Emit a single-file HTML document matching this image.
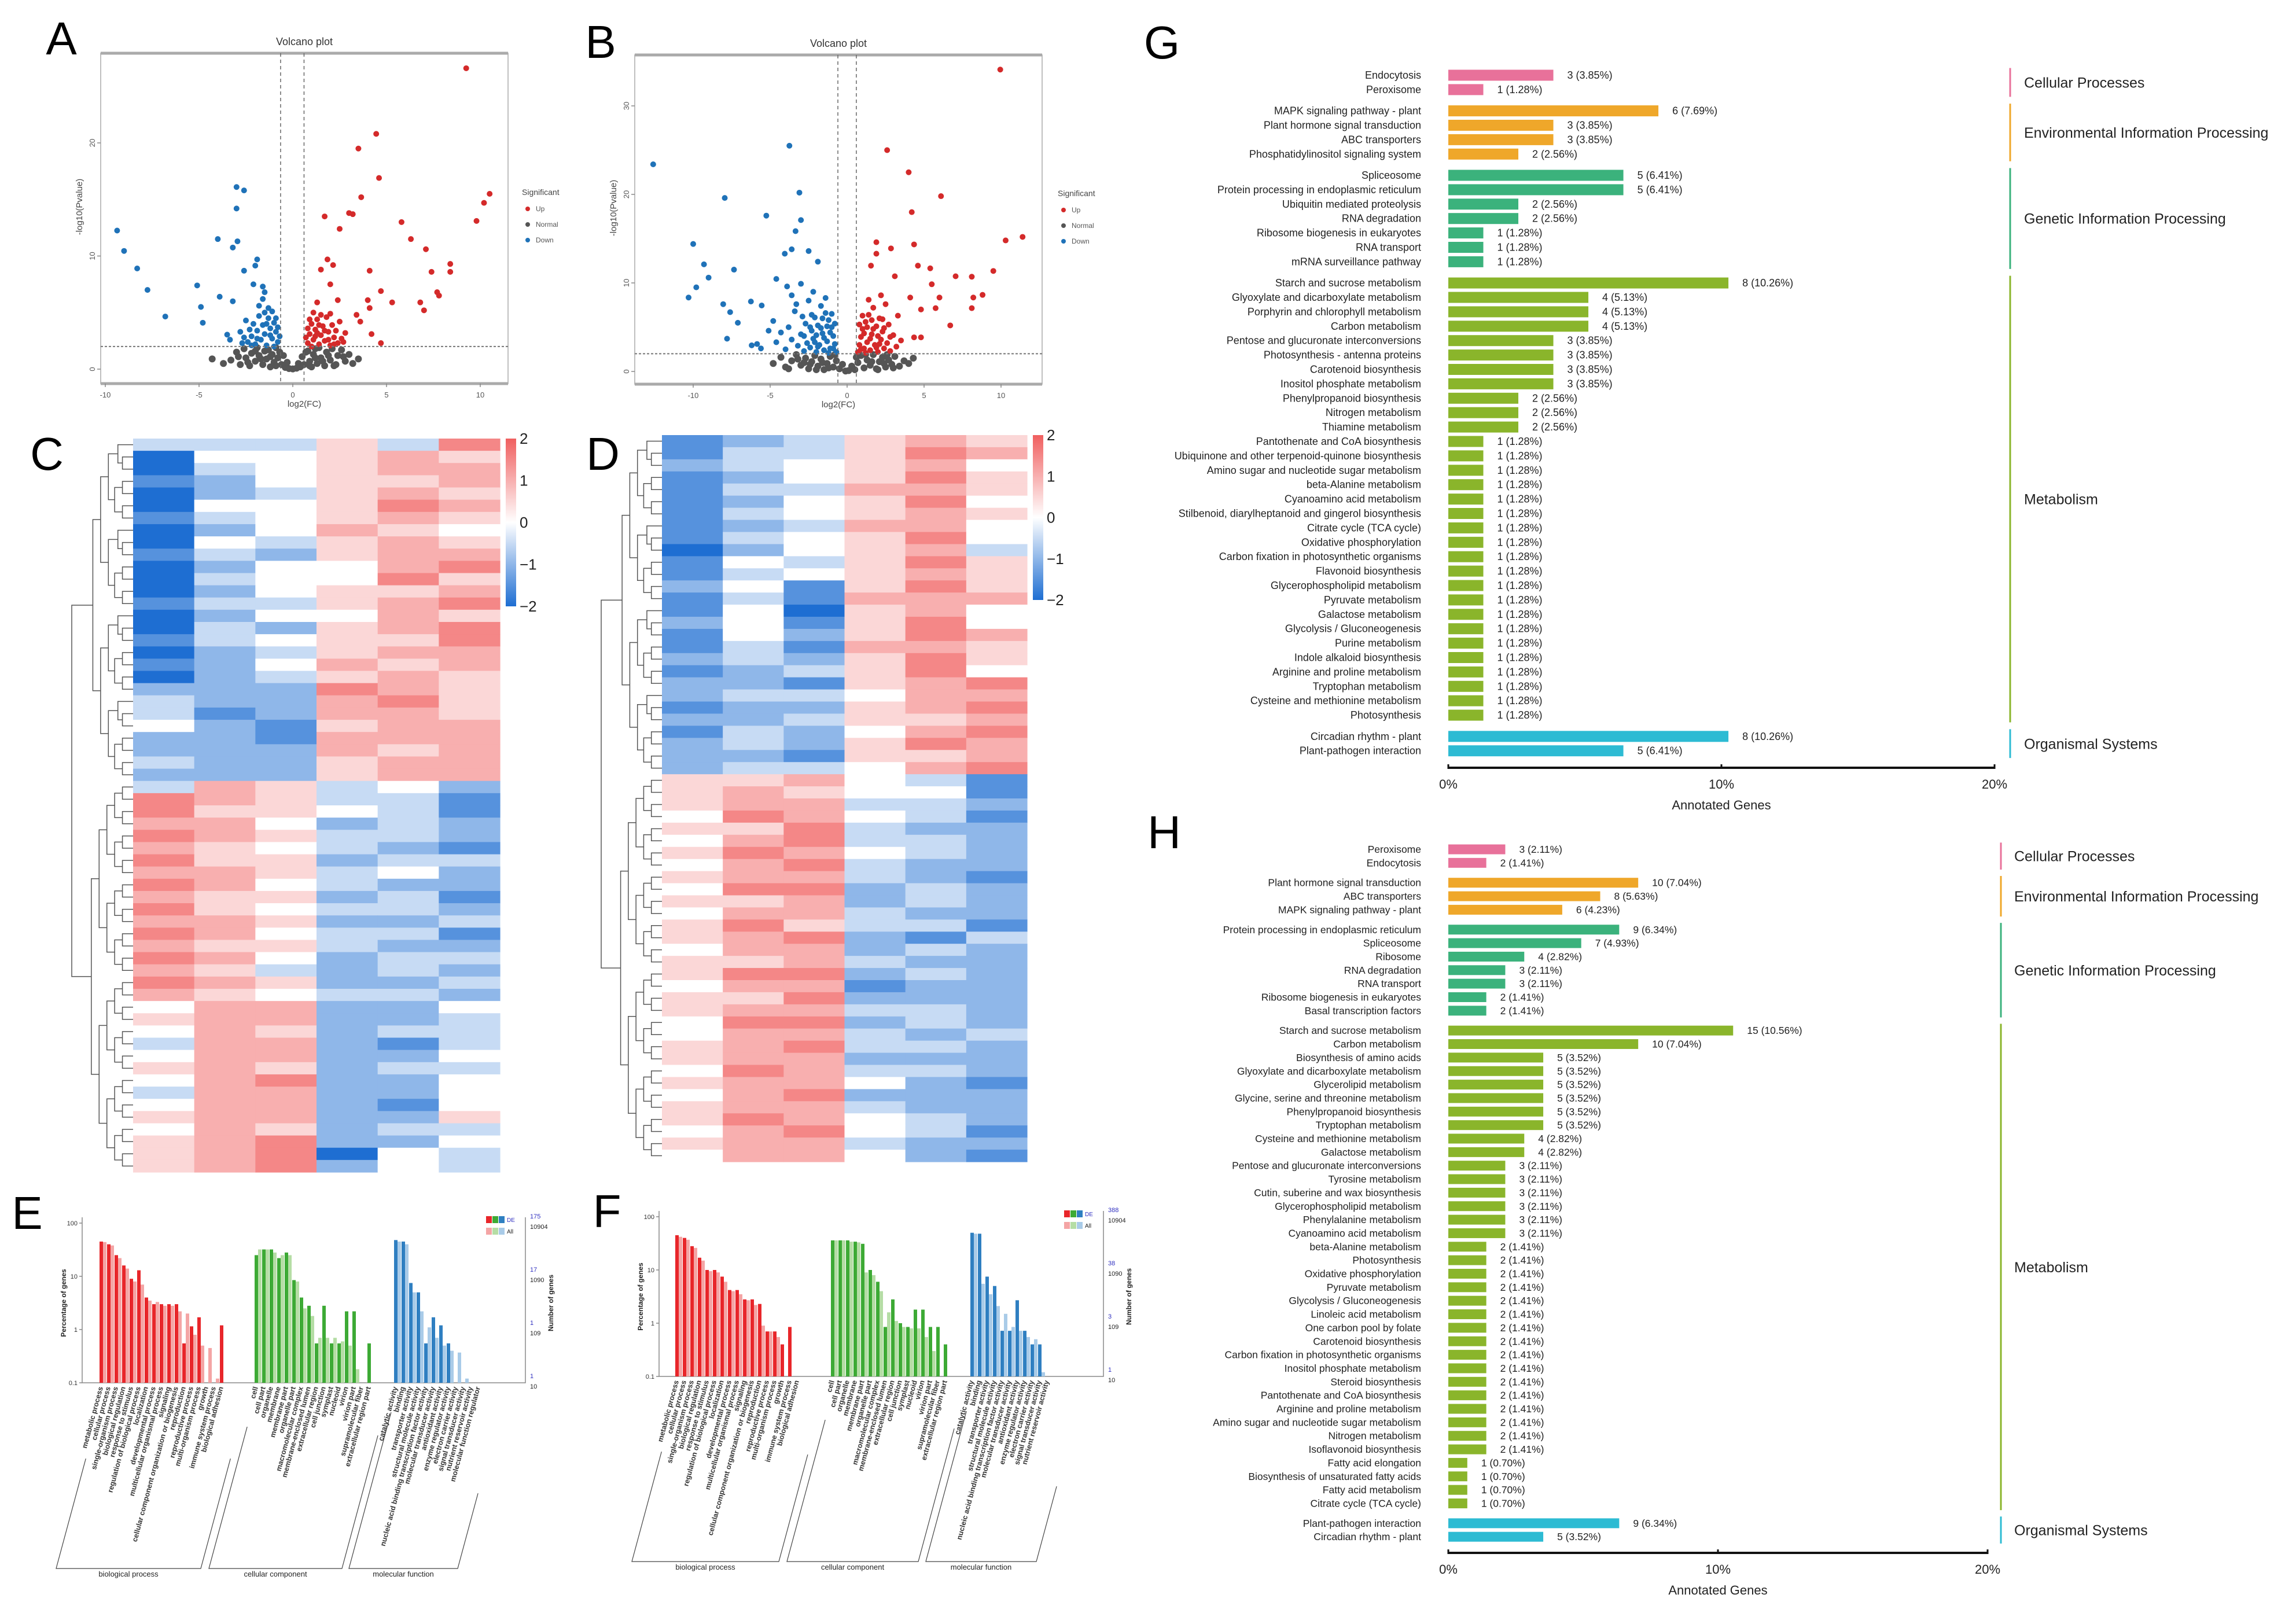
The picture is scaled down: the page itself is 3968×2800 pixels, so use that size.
<!DOCTYPE html>
<html><head><meta charset="utf-8"><title>Transcriptome figure</title>
<style>
html,body{margin:0;padding:0;background:#fff;}
svg{display:block;font-family:"Liberation Sans",sans-serif;}
</style></head>
<body>
<svg id="fig" xmlns="http://www.w3.org/2000/svg" width="3968" height="2800" viewBox="0 0 3968 2800">
<rect x="0" y="0" width="3968" height="2800" fill="#fff"/>
<defs>
<linearGradient id="cbar" x1="0" y1="0" x2="0" y2="1">
<stop offset="0" stop-color="rgb(240,95,95)"/><stop offset="0.5" stop-color="#fff"/><stop offset="1" stop-color="rgb(30,110,210)"/>
</linearGradient>
</defs>
<g font-size="80" fill="#000">
<text x="106" y="94" text-anchor="middle">A</text>
<text x="1038" y="100" text-anchor="middle">B</text>
<text x="81" y="812" text-anchor="middle">C</text>
<text x="1042" y="812" text-anchor="middle">D</text>
<text x="47" y="2124" text-anchor="middle">E</text>
<text x="1049" y="2121" text-anchor="middle">F</text>
<text x="2008" y="101" text-anchor="middle">G</text>
<text x="2012" y="1466" text-anchor="middle">H</text>
</g>
</svg>
<script>
// ---------- Volcano A data ----------
const volAUp = [[9.25,26.6],[4.45,20.8],[3.5,19.5],[4.6,16.9],[3.65,15.2],[10.5,15.5],[10.2,14.7],[1.7,13.5],[3.0,13.8],[3.2,13.7],[5.8,13.0],[9.8,13.1],[2.5,12.4],[6.3,11.5],[7.1,10.6],[8.4,9.3],[1.85,9.7],[2.15,9.2],[1.5,8.8],[4.1,8.7],[7.4,8.6],[8.4,8.6],[2.0,7.5],[7.7,6.8],[7.8,6.5],[4.7,6.9],[5.3,5.9],[6.8,5.9],[4.0,6.1],[7.0,5.2],[2.4,6.1],[1.3,5.9],[4.1,5.4],[3.4,4.8],[3.6,4.2],[4.2,3.1],[4.7,2.3],
[0.8,2.3],[0.9,3.1],[1.0,4.0],[1.1,2.6],[1.2,3.5],[1.3,4.4],[1.4,2.2],[1.5,3.0],[1.6,3.8],[1.7,2.5],[1.8,4.6],[1.9,3.3],[2.0,2.1],[2.1,3.9],[2.2,2.8],[2.3,3.4],[2.4,2.3],[2.5,4.2],[2.6,2.7],[2.8,3.2],[1.0,2.0],[1.2,2.9],[0.9,4.4],[1.5,4.8],[2.0,4.9],[1.7,3.4],[1.3,3.2],[1.1,5.0],[0.8,3.6],[2.2,2.2],[0.7,2.8],[1.4,3.9],[1.9,2.6],[2.7,2.4]];
const volANormal = [[-3.3,0.8],[-3,1.5],[-2.8,0.4],[-2.6,1.8],[-2.5,1.0],[-2.3,0.3],[-2.2,1.4],[-2,0.7],[-1.9,1.9],[-1.8,1.2],[-1.6,0.4],[-1.5,1.6],[-1.4,0.9],[-1.2,0.2],[-1.1,1.3],[-1,0.6],[-0.9,1.9],[-0.8,1.0],[-0.6,0.4],[-0.5,1.2],[-0.4,0.15],[-0.3,0.6],[-0.2,0.05],[0,0.02],[0.2,0.08],[0.3,0.5],[0.4,0.2],[0.5,1.1],[0.6,0.4],[0.8,1.6],[0.9,0.7],[1.0,0.2],[1.1,1.3],[1.3,0.5],[1.4,1.9],[1.5,1.0],[1.7,0.3],[1.8,1.5],[2.0,0.8],[2.1,1.8],[2.3,0.4],[2.4,1.2],[2.6,1.7],[2.8,0.7],[3.0,1.3],[3.2,0.5],[-4.3,0.9],[-3.7,0.5],[3.5,0.9],[-1.3,1.7],[1.2,1.8],[-0.7,1.5],[0.7,1.5],[-2.9,1.1],[2.7,1.1],[-1.7,0.9],[-2.4,0.6],[1.6,0.7],[2.2,0.3],[-0.9,0.3],[0.9,0.3],[-1.2,1.1],[1.2,1.0],[-2.0,1.6],[1.9,1.2]];
const volADown = [[-9.37,12.25],[-9.0,10.45],[-8.3,8.9],[-7.75,7.0],[-6.8,4.65],[-3.0,16.1],[-2.6,15.8],[-3.0,14.2],[-4.0,11.5],[-2.95,11.3],[-3.2,10.75],[-5.1,7.4],[-3.9,6.4],[-3.2,6.0],[-4.9,5.5],[-4.8,4.1],[-1.9,9.7],[-2.0,9.15],[-2.6,8.7],[-2.1,7.5],[-1.6,7.3],[-1.5,6.8],[-3.5,3.05],[-3.35,2.6],
[-0.8,2.4],[-0.9,3.3],[-1.0,4.1],[-1.1,2.7],[-1.2,3.6],[-1.3,4.5],[-1.4,2.1],[-1.5,3.1],[-1.6,3.9],[-1.7,2.6],[-1.8,4.7],[-1.9,3.4],[-2.0,2.2],[-2.1,4.0],[-2.2,2.9],[-2.3,3.5],[-2.4,2.4],[-2.5,4.3],[-2.6,2.8],[-2.8,3.3],[-1.0,2.0],[-1.2,3.0],[-0.9,4.5],[-1.5,5.0],[-1.8,5.6],[-1.6,6.2],[-1.3,5.4],[-1.1,5.1],[-0.8,3.7],[-2.2,2.1],[-0.7,2.9],[-1.4,4.0],[-1.9,2.7],[-2.7,2.3]];
const volATicksX = [-10,-5,0,5,10];
const volATicksY = [0,10,20];
// ---------- Volcano B data ----------
const volBUp = [[9.95,34.1],[2.6,25],[4.0,22.5],[6.1,19.8],[4.2,18.0],[11.4,15.2],[10.3,14.8],[1.9,14.6],[2.85,13.9],[4.35,14.35],[1.9,13.3],[1.55,11.95],[4.6,11.95],[5.4,11.65],[3.1,10.75],[9.5,11.35],[7.05,10.75],[8.1,10.7],[5.5,9.85],[8.8,8.65],[8.2,8.35],[6.0,8.35],[4.1,8.35],[8.1,7.15],[4.8,7.0],[5.75,7.15],[6.7,5.2],[4.35,3.85],[4.8,3.85],
[0.7,2.2],[0.8,3.0],[0.9,3.9],[1.0,4.8],[1.1,2.6],[1.2,5.6],[1.3,3.3],[1.4,6.4],[1.5,2.4],[1.6,4.2],[1.7,7.2],[1.8,3.0],[1.9,5.1],[2.0,2.2],[2.1,6.0],[2.2,3.6],[2.3,4.5],[2.4,2.6],[2.5,7.6],[2.6,3.2],[2.7,5.3],[2.8,2.3],[3.0,4.1],[3.2,2.8],[3.5,3.5],[0.9,2.5],[1.1,4.3],[1.3,5.0],[1.5,3.7],[1.7,4.8],[1.9,2.7],[2.1,3.1],[2.3,5.9],[0.8,5.3],[1.0,6.3],[1.2,2.1],[1.6,5.8],[2.0,4.0],[2.4,4.9],[2.8,3.9],[3.3,6.3],[1.4,8.1],[2.2,8.6]];
const volBNormal = [[-4.8,0.9],[-4.3,1.6],[-4.0,0.5],[-3.6,1.2],[-3.3,1.9],[-3.0,0.7],[-2.7,1.5],[-2.5,0.3],[-2.3,1.1],[-2.1,1.8],[-1.9,0.6],[-1.7,1.4],[-1.5,0.2],[-1.3,0.9],[-1.1,1.7],[-0.9,0.5],[-0.7,1.2],[-0.5,0.3],[-0.3,0.8],[-0.1,0.05],[0.1,0.1],[0.3,0.6],[0.5,0.2],[0.7,1.0],[0.9,1.8],[1.1,0.4],[1.3,1.3],[1.5,0.7],[1.7,1.9],[1.9,0.3],[2.1,1.1],[2.3,1.6],[2.5,0.5],[2.7,1.3],[2.9,0.8],[3.1,1.7],[3.4,0.6],[3.7,1.2],[4.0,0.9],[4.3,1.5],[-3.8,0.3],[-2.0,0.2],[2.0,0.2],[-1.2,0.4],[1.2,1.9],[-0.8,1.9],[0.6,1.6],[-2.8,1.0],[2.6,1.9],[-1.6,1.0],[1.6,1.1],[-2.4,0.8],[2.4,0.9],[-3.2,1.4],[3.0,0.4]];
const volBDown = [[-12.6,23.4],[-3.75,25.5],[-3.1,20.2],[-7.95,19.6],[-5.25,17.6],[-3.0,17.1],[-3.35,15.85],[-10.0,14.4],[-3.6,13.8],[-4.05,13.3],[-2.5,13.6],[-9.3,12.1],[-1.9,12.4],[-7.35,11.5],[-9.0,10.6],[-4.6,10.45],[-9.8,9.5],[-10.3,8.35],[-6.25,7.9],[-8.05,7.6],[-7.6,6.7],[-7.1,5.5],[-7.8,3.7],[-6.2,2.95],[-5.85,3.1],[-5.55,7.45],
[-0.7,2.2],[-0.8,3.1],[-0.9,4.0],[-1.0,5.0],[-1.1,2.6],[-1.2,5.8],[-1.3,3.4],[-1.4,6.6],[-1.5,2.4],[-1.6,4.3],[-1.7,7.4],[-1.8,3.0],[-1.9,5.2],[-2.0,2.2],[-2.1,6.1],[-2.2,3.7],[-2.3,4.6],[-2.4,2.7],[-2.5,8.0],[-2.6,3.2],[-2.7,5.4],[-2.8,2.3],[-3.0,4.2],[-3.2,2.9],[-3.4,6.8],[-3.6,3.6],[-3.8,5.0],[-4.0,2.5],[-4.3,4.4],[-4.6,3.3],[-0.9,2.6],[-1.1,4.4],[-1.3,5.1],[-1.5,3.8],[-1.7,4.9],[-1.9,2.8],[-2.1,3.3],[-2.3,6.4],[-0.8,5.4],[-1.0,6.5],[-1.2,2.1],[-1.6,6.0],[-2.0,4.1],[-2.4,5.0],[-2.8,4.0],[-3.3,7.6],[-1.4,8.3],[-2.2,9.0],[-2.9,6.2],[-3.6,8.6],[-4.8,5.7],[-5.1,4.6],[-5.6,2.6],[-3.9,9.6],[-3.0,9.9]];
const volBTicksX = [-10,-5,0,5,10];
const volBTicksY = [0,10,20,30];
// ---------- Heatmap data (digits 0..8 map to -2..2) ----------
const heatCRows = ["333537","044565","034566","124556","023565","044576","134565","024654","043565","132566","024467","034475","024556","133567","024465","032567","134557","023566","124656","023565","222765","322675","312665","421566","221666","222656","322566","222566",
"365342","765331","755431","664232","765332","654321","755233","665342","764322","655231","754332","665223","764331","655322","764233","653232","765223","654332","466224","566223","465233","366213","466224","565233","467224","366224","466214","566225","465233","567224","567043","567243"];
const heatCSplit = 28;
const heatDRows = ["123565","133576","234564","124575","133665","124574","134565","123664","134574","024563","143575","134565","241575","131666","140564","241574","142576","131665","232575","123574","221567","233466","122567","223556","132467","232576","221556","233467",
"556431","565441","566332","476431","557322","467332","576432","467322","566321","477232","556232","466322","575331","567213","466232","556322","577232","466122","557222","566332","477232","466323","567332","566222","476332","566421","467222","566322","576432","467431","566322","466421"];
const heatDSplit = 28;
const heatTicks = [2,1,0,-1,-2];
// ---------- GO classification data (percent of genes) ----------
const goBioTerms = ["metabolic process","cellular process","single-organism process","biological regulation","response to stimulus","regulation of biological process","localization","developmental process","multicellular organismal process","signaling","cellular component organization or biogenesis","reproduction","reproductive process","multi-organism process","growth","immune system process","biological adhesion"];
const goCellTerms = ["cell","cell part","organelle","membrane","membrane part","organelle part","macromolecular complex","membrane-enclosed lumen","extracellular region","cell junction","symplast","nucleoid","virion","virion part","supramolecular fiber","extracellular region part"];
const goMolTerms = ["catalytic activity","binding","transporter activity","structural molecule activity","nucleic acid binding transcription factor activity","molecular transducer activity","antioxidant activity","enzyme regulator activity","electron carrier activity","signal transducer activity","nutrient reservoir activity","molecular function regulator"];
const goERedDE = [45,40,25,16,9,13,4,3,3,3,3,0.55,1.15,1.7,0,0,1.2];
const goERedAll = [44,38,22,14,8,7,3.5,3.3,2.8,2.8,2.2,2,0.8,0.5,0.45,0.12,0];
const goEGreenDE = [25,32,32,22,28,8.5,4,2.8,0.55,2.8,0.55,0.55,2.2,2.2,0,0.55];
const goEGreenAll = [32,32,28,25,25,8,2.5,1.8,0.7,0.7,0.7,0.6,0.5,0.18,0,0];
const goEBlueDE = [48,45,7.5,5,0.55,1.7,1.2,0.55,0,0,0,0];
const goEBlueAll = [45,40,5,2.2,1.1,0.7,0.5,0.4,0.37,0.12,0,0];
const goERightTicks = [["175","10904"],["17","1090"],["1","109"],["1","10"]];
const goFRedDE = [45,40,28,17,10,10,7.5,4.2,4.2,2.8,2.8,2.3,0.7,0.7,0.4,0.85,0];
const goFRedAll = [42,37,26,15,9.5,9,6,4,3.5,2.7,2.2,0.9,0.7,0.55,0,0,0];
const goFGreenDE = [36,36,36,34,31,10,6,0.85,2.8,1.0,0.85,1.8,1.8,0.85,0.85,0.4];
const goFGreenAll = [36,36,34,33,9,8,4,1.6,1.1,0.85,0.8,0.8,0.55,0.3,0,0];
const goFBlueDE = [50,48,7.5,5,0.72,0.72,2.7,0.72,0.4,0.4,0];
const goFBlueAll = [48,5.5,3.5,2.1,1.5,0.85,0.72,0.55,0.5,0.12,0];
const goFRightTicks = [["388","10904"],["38","1090"],["3","109"],["1","10"]];
const goLeftTicks = ["100","10","1","0.1"];
// ---------- KEGG G data ----------
const keggGroupNames = ["Cellular Processes","Environmental Information Processing","Genetic Information Processing","Metabolism","Organismal Systems"];
const gLabels = ["Endocytosis","Peroxisome","MAPK signaling pathway - plant","Plant hormone signal transduction","ABC transporters","Phosphatidylinositol signaling system","Spliceosome","Protein processing in endoplasmic reticulum","Ubiquitin mediated proteolysis","RNA degradation","Ribosome biogenesis in eukaryotes","RNA transport","mRNA surveillance pathway","Starch and sucrose metabolism","Glyoxylate and dicarboxylate metabolism","Porphyrin and chlorophyll metabolism","Carbon metabolism","Pentose and glucuronate interconversions","Photosynthesis - antenna proteins","Carotenoid biosynthesis","Inositol phosphate metabolism","Phenylpropanoid biosynthesis","Nitrogen metabolism","Thiamine metabolism","Pantothenate and CoA biosynthesis","Ubiquinone and other terpenoid-quinone biosynthesis","Amino sugar and nucleotide sugar metabolism","beta-Alanine metabolism","Cyanoamino acid metabolism","Stilbenoid, diarylheptanoid and gingerol biosynthesis","Citrate cycle (TCA cycle)","Oxidative phosphorylation","Carbon fixation in photosynthetic organisms","Flavonoid biosynthesis","Glycerophospholipid metabolism","Pyruvate metabolism","Galactose metabolism","Glycolysis / Gluconeogenesis","Purine metabolism","Indole alkaloid biosynthesis","Arginine and proline metabolism","Tryptophan metabolism","Cysteine and methionine metabolism","Photosynthesis","Circadian rhythm - plant","Plant-pathogen interaction"];
const gCounts = [3,1,6,3,3,2,5,5,2,2,1,1,1,8,4,4,4,3,3,3,3,2,2,2,1,1,1,1,1,1,1,1,1,1,1,1,1,1,1,1,1,1,1,1,8,5];
const gGroups = [0,0,1,1,1,1,2,2,2,2,2,2,2,3,3,3,3,3,3,3,3,3,3,3,3,3,3,3,3,3,3,3,3,3,3,3,3,3,3,3,3,3,3,3,4,4];
const gTotal = 78;
// ---------- KEGG H data ----------
const hLabels = ["Peroxisome","Endocytosis","Plant hormone signal transduction","ABC transporters","MAPK signaling pathway - plant","Protein processing in endoplasmic reticulum","Spliceosome","Ribosome","RNA degradation","RNA transport","Ribosome biogenesis in eukaryotes","Basal transcription factors","Starch and sucrose metabolism","Carbon metabolism","Biosynthesis of amino acids","Glyoxylate and dicarboxylate metabolism","Glycerolipid metabolism","Glycine, serine and threonine metabolism","Phenylpropanoid biosynthesis","Tryptophan metabolism","Cysteine and methionine metabolism","Galactose metabolism","Pentose and glucuronate interconversions","Tyrosine metabolism","Cutin, suberine and wax biosynthesis","Glycerophospholipid metabolism","Phenylalanine metabolism","Cyanoamino acid metabolism","beta-Alanine metabolism","Photosynthesis","Oxidative phosphorylation","Pyruvate metabolism","Glycolysis / Gluconeogenesis","Linoleic acid metabolism","One carbon pool by folate","Carotenoid biosynthesis","Carbon fixation in photosynthetic organisms","Inositol phosphate metabolism","Steroid biosynthesis","Pantothenate and CoA biosynthesis","Arginine and proline metabolism","Amino sugar and nucleotide sugar metabolism","Nitrogen metabolism","Isoflavonoid biosynthesis","Fatty acid elongation","Biosynthesis of unsaturated fatty acids","Fatty acid metabolism","Citrate cycle (TCA cycle)","Plant-pathogen interaction","Circadian rhythm - plant"];
const hCounts = [3,2,10,8,6,9,7,4,3,3,2,2,15,10,5,5,5,5,5,5,4,4,3,3,3,3,3,3,2,2,2,2,2,2,2,2,2,2,2,2,2,2,2,2,1,1,1,1,9,5];
const hGroups = [0,0,1,1,1,2,2,2,2,2,2,2,3,3,3,3,3,3,3,3,3,3,3,3,3,3,3,3,3,3,3,3,3,3,3,3,3,3,3,3,3,3,3,3,3,3,3,3,4,4];
const hTotal = 142;
const keggTicks = [0,10,20];

const NS = "http://www.w3.org/2000/svg";
const svg = document.getElementById('fig');
function mk(tag, attrs, parent){ const e=document.createElementNS(NS,tag); for(const k in attrs) e.setAttribute(k,attrs[k]); parent.appendChild(e); return e; }

// ================= VOLCANO =================
function volcano(cfg, up, normal, down, ticksX, ticksY){
  const g = mk('g',{},svg);
  
  
  const X = v => cfg.x0 + v*cfg.xu, Y = v => cfg.y0 - v*cfg.yu;
  const frame = mk('rect',{x:cfg.l,y:cfg.t,width:cfg.r-cfg.l,height:cfg.b-cfg.t,fill:'#fff',stroke:'#aaa','stroke-width':1.5},g);
  
  
  const topBar = mk('line',{x1:cfg.l,x2:cfg.r,y1:cfg.t,y2:cfg.t,stroke:'#aaa','stroke-width':5},g);
  
  
  const botBar = mk('line',{x1:cfg.l,x2:cfg.r,y1:cfg.b,y2:cfg.b,stroke:'#aaa','stroke-width':5},g);
  
  
  const title = mk('text',{x:(cfg.l+cfg.r)/2,y:cfg.t-14,'text-anchor':'middle','font-size':18,fill:'#333'},g);
  title.textContent = 'Volcano plot';
  
  
  ticksX.forEach(t=>{
    const tk = mk('line',{x1:X(t),x2:X(t),y1:cfg.b,y2:cfg.b+6,stroke:'#888','stroke-width':1.5},g);
    
    
    const tl = mk('text',{x:X(t),y:cfg.b+24,'text-anchor':'middle','font-size':13,fill:'#555'},g);
    tl.textContent = t;
    
    
  });
  ticksY.forEach(t=>{
    const tk = mk('line',{x1:cfg.l-6,x2:cfg.l,y1:Y(t),y2:Y(t),stroke:'#888','stroke-width':1.5},g);
    
    
    const tl = mk('text',{x:cfg.l-10,y:Y(t),'text-anchor':'middle','font-size':13,fill:'#555',transform:`rotate(-90 ${cfg.l-10} ${Y(t)})`},g);
    tl.textContent = t;
    
    
  });
  const xl = mk('text',{x:(cfg.l+cfg.r)/2,y:cfg.b+40,'text-anchor':'middle','font-size':15,fill:'#444'},g);
  xl.textContent = 'log2(FC)';
  
  
  const ly = (cfg.t+cfg.b)/2 - 20;
  const yl = mk('text',{x:cfg.l-32,y:ly,'text-anchor':'middle','font-size':15,fill:'#444',transform:`rotate(-90 ${cfg.l-32} ${ly})`},g);
  yl.textContent = '-log10(Pvalue)';
  
  
  const pts = mk('g',{},g);
  
  
  normal.forEach(p=>{
    const c = mk('circle',{cx:X(p[0]),cy:Y(p[1]),r:6,fill:'#555'},pts);
    
    
  });
  up.forEach(p=>{
    const c = mk('circle',{cx:X(p[0]),cy:Y(p[1]),r:5,fill:'#d42a2a'},pts);
    
    
  });
  down.forEach(p=>{
    const c = mk('circle',{cx:X(p[0]),cy:Y(p[1]),r:5,fill:'#1f72b8'},pts);
    
    
  });
  cfg.vl.forEach(v=>{
    const d = mk('line',{x1:X(v),x2:X(v),y1:cfg.t,y2:cfg.b,stroke:'#666','stroke-width':1.5,'stroke-dasharray':'6 5'},g);
    
    
  });
  const h = mk('line',{x1:cfg.l,x2:cfg.r,y1:Y(cfg.hl),y2:Y(cfg.hl),stroke:'#777','stroke-width':2,'stroke-dasharray':'4 3'},g);
  
  
  const lg = mk('g',{},g);
  
  
  const lt = mk('text',{x:cfg.lx,y:cfg.ly,'font-size':14,fill:'#444'},lg);
  lt.textContent = 'Significant';
  
  
  [['Up','#d42a2a'],['Normal','#555'],['Down','#1f72b8']].forEach((it,i)=>{
    const yy = cfg.ly + 28 + i*27;
    const c = mk('circle',{cx:cfg.lx+10,cy:yy-4,r:4,fill:it[1]},lg);
    
    
    const t = mk('text',{x:cfg.lx+24,y:yy,'font-size':12,fill:'#555'},lg);
    t.textContent = it[0];
    
    
  });
}
volcano({name:'volcano-plot-a',l:174,r:878,t:92,b:663,x0:506,xu:32.4,y0:638,yu:19.55,vl:[-0.65,0.6],hl:2,lx:902,ly:337}, volAUp, volANormal, volADown, volATicksX, volATicksY);
volcano({name:'volcano-plot-b',l:1097,r:1801,t:95,b:664,x0:1464,xu:26.6,y0:642,yu:15.3,vl:[-0.6,0.6],hl:2,lx:1828,ly:339}, volBUp, volBNormal, volBDown, volBTicksX, volBTicksY);

// ================= HEATMAPS =================
function heatColor(v){
  const t = Math.max(-1,Math.min(1,v/2));
  let r,gg,b;
  if(t<0){ const k=-t; r=255+(30-255)*k; gg=255+(110-255)*k; b=255+(210-255)*k; }
  else { const k=t; r=255+(240-255)*k; gg=255+(95-255)*k; b=255+(95-255)*k; }
  return `rgb(${Math.round(r)},${Math.round(gg)},${Math.round(b)})`;
}
function heatmap(name, rows, split, cfg){
  const g = mk('g',{},svg);
  
  
  const n = rows.length, ncol = rows[0].length;
  const rh = (cfg.b-cfg.t)/n, cw = (cfg.r-cfg.l)/ncol;
  rows.forEach((row,i)=>{
    for(let j=0;j<ncol;j++){
      const v = (parseInt(row[j])-4)/2;
      const c = mk('rect',{x:cfg.l+j*cw,y:cfg.t+i*rh,width:cw+0.6,height:rh+0.6,fill:heatColor(v)},g);
      
      
    }
  });
  const dg = mk('g',{stroke:'#555','stroke-width':1.5,fill:'none'},g);
  
  
  const k = (cfg.l - cfg.dl - 12)/7;
  function build(i,j,root){
    if(j-i===1) return {y:cfg.t+(i+0.5)*rh, x:cfg.l};
    const m = root ? split : Math.floor((i+j)/2);
    const a = build(i,m,false), b = build(m,j,false);
    const x = root ? cfg.dl : cfg.l - (5 + Math.log2(j-i)*k);
    const p = mk('path',{d:`M${a.x},${a.y}H${x}V${b.y}H${b.x}`},dg);
    
    
    return {y:(a.y+b.y)/2, x:x};
  }
  build(0,n,true);
  const cb = mk('rect',{x:cfg.cbx,y:cfg.cbt,width:18,height:cfg.cbb-cfg.cbt,fill:'url(#cbar)'},g);
  
  
  heatTicks.forEach((t,i)=>{
    const yy = cfg.cbt + (2-t)/4*(cfg.cbb-cfg.cbt);
    const tl = mk('text',{x:cfg.cbx+24,y:yy+9,'font-size':26,fill:'#222'},g);
    tl.textContent = t<0 ? '\u2212'+(-t) : String(t);
    
    
  });
}
heatmap('heatmap-c', heatCRows, heatCSplit, {l:230,r:864,t:758,b:2026,dl:124,cbx:874,cbt:758,cbb:1048});
heatmap('heatmap-d', heatDRows, heatDSplit, {l:1144,r:1775,t:752,b:2008,dl:1039,cbx:1785,cbt:752,cbb:1037});

// ================= GO BAR CHARTS =================
function goChart(name, cfg, groups, rightTicks){
  const g = mk('g',{},svg);
  
  
  const Y = v => cfg.base - (Math.log10(v)+1)*cfg.dec;
  const ax = mk('path',{d:`M${cfg.l},${cfg.base-3*cfg.dec-10}V${cfg.base}H${cfg.r}V${cfg.base-3*cfg.dec-10}`,stroke:'#888','stroke-width':1.5,fill:'none'},g);
  
  
  goLeftTicks.forEach((t,i)=>{
    const yy = cfg.base-(3-i)*cfg.dec;
    const tk = mk('line',{x1:cfg.l-5,x2:cfg.l,y1:yy,y2:yy,stroke:'#888','stroke-width':1.5},g);
    
    
    const tl = mk('text',{x:cfg.l-8,y:yy+4,'text-anchor':'end','font-size':11,fill:'#333'},g);
    tl.textContent = t;
    
    
  });
  rightTicks.forEach((t,i)=>{
    const yy = cfg.base-(3-i)*cfg.dec;
    const a = mk('text',{x:cfg.r+8,y:yy-8,'font-size':11,fill:'#3030c0'},g);
    a.textContent = t[0];
    
    
    const b = mk('text',{x:cfg.r+8,y:yy+10,'font-size':11,fill:'#222'},g);
    b.textContent = t[1];
    
    
  });
  const ly = cfg.base-1.5*cfg.dec;
  const lt = mk('text',{x:cfg.l-28,y:ly,'text-anchor':'middle','font-size':12,'font-weight':'bold',fill:'#222',transform:`rotate(-90 ${cfg.l-28} ${ly})`},g);
  lt.textContent = 'Percentage of genes';
  
  
  const rt = mk('text',{x:cfg.r+48,y:ly,'text-anchor':'middle','font-size':12,'font-weight':'bold',fill:'#222',transform:`rotate(-90 ${cfg.r+48} ${ly})`},g);
  rt.textContent = 'Number of genes';
  
  
  groups.forEach((gr,gi)=>{
    gr.de.forEach((v,i)=>{
      const x = gr.x0 + i*13;
      if(v>0){
        const b = mk('rect',{x:x,y:Y(v),width:6,height:cfg.base-Y(v),fill:gr.dark},g);
        
        
      }
      const va = gr.all[i];
      if(va>0){
        const b2 = mk('rect',{x:x+6,y:Y(va),width:6,height:cfg.base-Y(va),fill:gr.light},g);
        
        
      }
      const tx = x+6, ty = cfg.base+8;
      const tl = mk('text',{x:tx,y:ty,'text-anchor':'end','font-size':12.5,'font-weight':'bold',fill:'#333',transform:`rotate(-75 ${tx} ${ty})`},g);
      tl.textContent = gr.terms[i] || '';
      
      
    });
    const bk = gr.bracket;
    const p = mk('path',{d:`M${bk[0]+bk[2]*0.27},${cfg.bb-bk[2]}L${bk[0]},${cfg.bb}H${bk[1]}L${bk[1]+bk[3]*0.27},${cfg.bb-bk[3]}`,stroke:'#444','stroke-width':1.2,fill:'none'},g);
    
    
    const ct = mk('text',{x:(bk[0]+bk[1])/2,y:cfg.bb+14,'text-anchor':'middle','font-size':13,fill:'#222'},g);
    ct.textContent = gr.title;
    
    
  });
  const lgx = cfg.lgx;
  const lg = mk('g',{},g);
  
  
  [['#E8262A','#3DAA35','#2F7FC1','DE',cfg.top+2],['#F4A5A5','#B5DDA5','#A9CBE8','All',cfg.top+22]].forEach(row=>{
    for(let i=0;i<3;i++){
      const s = mk('rect',{x:lgx+i*11,y:row[4],width:10,height:12,fill:row[i]},lg);
      
      
    }
    const t = mk('text',{x:lgx+36,y:row[4]+10,'font-size':10,fill:row[3]==='DE'?'#3030c0':'#222'},lg);
    t.textContent = row[3];
    
    
  });
}
goChart('go-chart-e',{l:142,r:908,base:2390,dec:92,bb:2711,lgx:840,top:2100},[
  {x0:172,de:goERedDE,all:goERedAll,dark:'#E8262A',light:'#F4A5A5',terms:goBioTerms,title:'biological process',bracket:[97,347,190,190]},
  {x0:440,de:goEGreenDE,all:goEGreenAll,dark:'#3DAA35',light:'#B5DDA5',terms:goCellTerms,title:'cellular component',bracket:[361,591,245,230]},
  {x0:681,de:goEBlueDE,all:goEBlueAll,dark:'#2F7FC1',light:'#A9CBE8',terms:goMolTerms,title:'molecular function',bracket:[603,791,270,130]}
], goERightTicks);
goChart('go-chart-f',{l:1139,r:1907,base:2379,dec:92,bb:2699,lgx:1839,top:2090},[
  {x0:1167,de:goFRedDE,all:goFRedAll,dark:'#E8262A',light:'#F4A5A5',terms:goBioTerms,title:'biological process',bracket:[1092,1346,190,185]},
  {x0:1436,de:goFGreenDE,all:goFGreenAll,dark:'#3DAA35',light:'#B5DDA5',terms:goCellTerms,title:'cellular component',bracket:[1360,1587,245,230]},
  {x0:1677,de:goFBlueDE,all:goFBlueAll,dark:'#2F7FC1',light:'#A9CBE8',terms:goMolTerms,title:'molecular function',bracket:[1600,1791,260,130]}
], goFRightTicks);

// ================= KEGG CHARTS =================
const keggColors = ['#E8719A','#EFA72A','#3BB27C','#8AB52B','#2DBBD3'];
function kegg(name, labels, counts, groups, total, cfg){
  const g = mk('g',{},svg);
  
  
  const X = pct => cfg.x0 + pct/10*cfg.p10;
  let y = cfg.y0; const ys = [];
  labels.forEach((lab,i)=>{
    if(i>0) y += cfg.step + (groups[i]!==groups[i-1] ? cfg.gap : 0);
    ys.push(y);
    const pct = counts[i]/total*100;
    const b = mk('rect',{x:cfg.x0,y:y-cfg.bh/2,width:X(pct)-cfg.x0,height:cfg.bh,fill:keggColors[groups[i]]},g);
    
    
    const t = mk('text',{x:cfg.lr,y:y+6,'text-anchor':'end','font-size':cfg.fs,fill:'#222'},g);
    t.textContent = lab;
    
    
    const v = mk('text',{x:X(pct)+24,y:y+6,'font-size':cfg.fs,fill:'#222'},g);
    v.textContent = counts[i]+' ('+pct.toFixed(2)+'%)';
    
    
  });
  keggGroupNames.forEach((gn,gi)=>{
    const idx = ys.filter((_,i)=>groups[i]===gi);
    const y1 = idx[0]-cfg.step/2, y2 = idx[idx.length-1]+cfg.step/2;
    const l = mk('line',{x1:cfg.cx,x2:cfg.cx,y1:y1,y2:y2,stroke:keggColors[gi],'stroke-width':3},g);
    
    
    const t = mk('text',{x:cfg.ctx,y:(y1+y2)/2+9,'font-size':cfg.cfs,fill:'#222'},g);
    t.textContent = gn;
    
    
  });
  const ax = mk('line',{x1:cfg.x0,x2:X(20),y1:cfg.ay,y2:cfg.ay,stroke:'#111','stroke-width':4},g);
  
  
  keggTicks.forEach(t=>{
    const tk = mk('line',{x1:X(t),x2:X(t),y1:cfg.ay-6,y2:cfg.ay+2,stroke:'#111','stroke-width':3},g);
    
    
    const tl = mk('text',{x:X(t),y:cfg.ay+36,'text-anchor':'middle','font-size':22,fill:'#222'},g);
    tl.textContent = t+'%';
    
    
  });
  const at = mk('text',{x:X(10),y:cfg.ay+72,'text-anchor':'middle','font-size':22,fill:'#222'},g);
  at.textContent = 'Annotated Genes';
  
  
}
kegg('kegg-chart-g', gLabels, gCounts, gGroups, gTotal, {x0:2503,p10:472,y0:130,step:24.9,gap:11.8,bh:19,lr:2456,fs:18,cx:3474,ctx:3498,cfs:25,ay:1327});
kegg('kegg-chart-h', hLabels, hCounts, hGroups, hTotal, {x0:2503,p10:466,y0:1468,step:23.35,gap:11,bh:17,lr:2456,fs:17.5,cx:3458,ctx:3481,cfs:25,ay:2684});
</script>
</body></html>
